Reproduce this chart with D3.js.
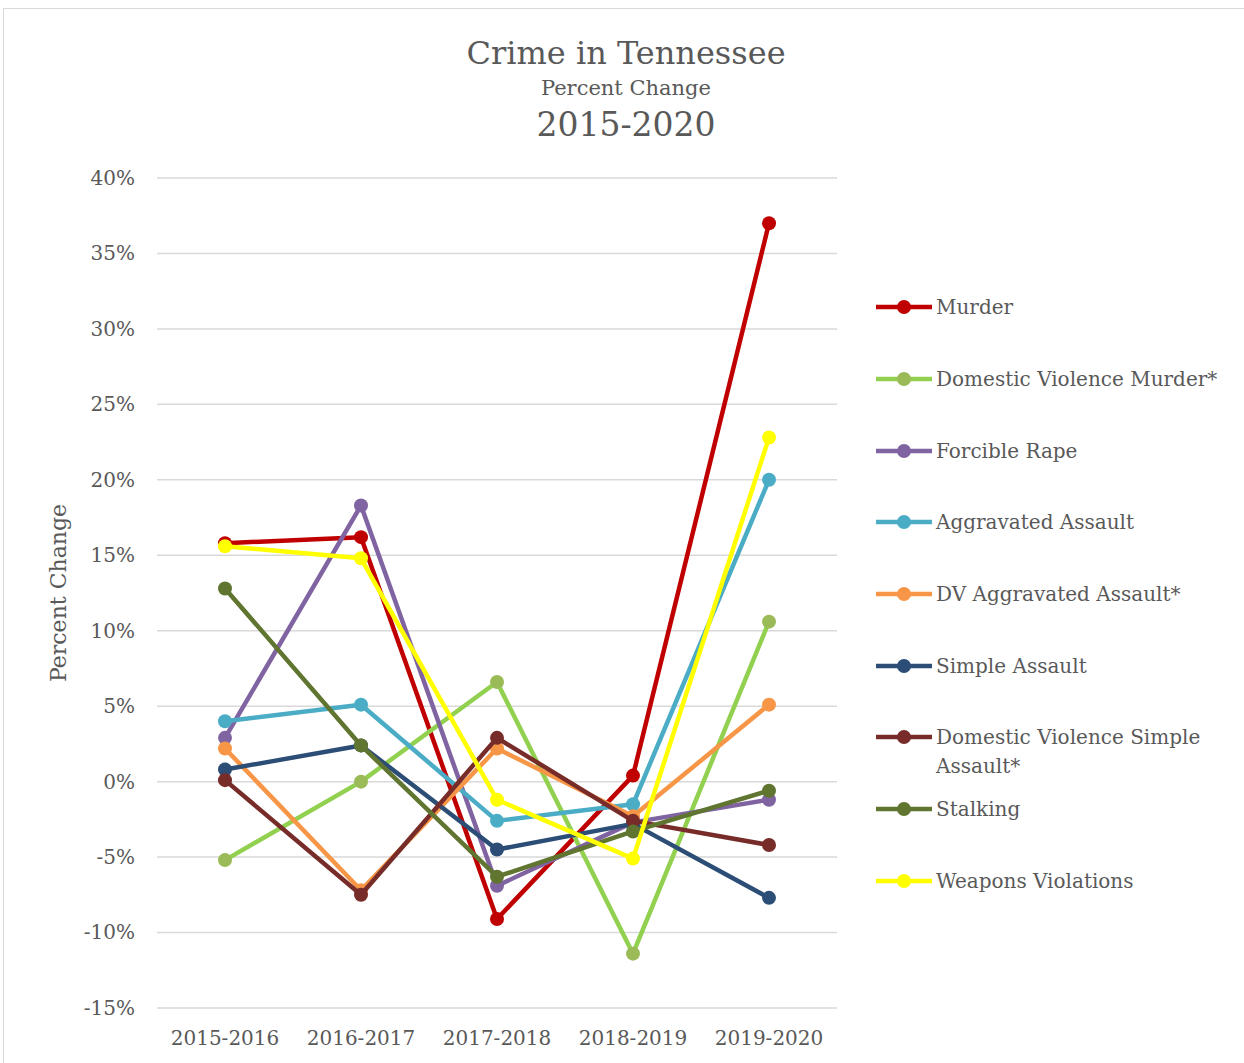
<!DOCTYPE html>
<html>
<head>
<meta charset="utf-8">
<script src="https://cdn.jsdelivr.net/npm/d3@7"></script>
<style>
  body { margin: 0; background: #fff; }
  text { font-family: 'DejaVu Serif', 'Liberation Serif', serif; fill: #595959; }
</style>
</head>
<body>
<div id="chart"></div>
<script>
//Datos del gráfico
const periods = ['2015-2016', '2016-2017', '2017-2018', '2018-2019', '2019-2020']
const yTicks = [-15, -10, -5, 0, 5, 10, 15, 20, 25, 30, 35, 40]

const murder = [15.8, 16.2, -9.1, 0.4, 37.0]
const dvMurder = [-5.2, 0.0, 6.6, -11.4, 10.6]
const forcibleRape = [2.9, 18.3, -6.9, -2.7, -1.2]
const aggAssault = [4.0, 5.1, -2.6, -1.5, 20.0]
const dvAggAssault = [2.2, -7.2, 2.2, -2.3, 5.1]
const simpleAssault = [0.8, 2.4, -4.5, -2.8, -7.7]
const dvSimpleAssault = [0.1, -7.5, 2.9, -2.6, -4.2]
const stalking = [12.8, 2.4, -6.3, -3.3, -0.6]
const weapons = [15.6, 14.8, -1.2, -5.1, 22.8]

const seriesNames = ['Murder', 'Domestic Violence Murder*', 'Forcible Rape', 'Aggravated Assault',
  'DV Aggravated Assault*', 'Simple Assault', 'Domestic Violence Simple Assault*', 'Stalking', 'Weapons Violations']
const seriesValues = [murder, dvMurder, forcibleRape, aggAssault, dvAggAssault, simpleAssault, dvSimpleAssault, stalking, weapons]
const lineColors = ['#C00000', '#92D050', '#8064A2', '#4BACC6', '#F79646', '#2C4D75', '#772C2A', '#5F7530', '#FFFF00']
const markerColors = ['#C00000', '#9BBB59', '#8064A2', '#4BACC6', '#F79646', '#2C4D75', '#772C2A', '#5F7530', '#FFFF00']

const series = seriesNames.map((name, i) => ({
  name, values: seriesValues[i], color: lineColors[i], marker: markerColors[i]
}))

//Constantes
const width = 1244
const height = 1063
const plot = { left: 157, right: 837, top: 178, bottom: 1008 }

const svg = d3.select('#chart')
  .append('svg')
  .attr('width', width)
  .attr('height', height)

//Borde del gráfico
svg.append('rect')
  .attr('x', 3.5).attr('y', 8.5)
  .attr('width', width + 10).attr('height', height + 10)
  .attr('fill', 'none')
  .attr('stroke', '#d9d9d9')
  .attr('stroke-width', 1)

//Títulos
svg.append('text')
  .attr('x', 626).attr('y', 64)
  .attr('text-anchor', 'middle')
  .style('font-size', '32px')
  .text('Crime in Tennessee')
svg.append('text')
  .attr('x', 626).attr('y', 95)
  .attr('text-anchor', 'middle')
  .style('font-size', '21px')
  .text('Percent Change')
svg.append('text')
  .attr('x', 626).attr('y', 136)
  .attr('text-anchor', 'middle')
  .style('font-size', '33px')
  .text('2015-2020')

//Escalas
const x = d3.scaleBand()
  .domain(periods)
  .range([plot.left, plot.right])
const y = d3.scaleLinear()
  .domain([-15, 40])
  .range([plot.bottom, plot.top])

//Rejilla
svg.append('g')
  .selectAll('line')
  .data(yTicks)
  .enter()
  .append('line')
  .attr('x1', plot.left).attr('x2', plot.right)
  .attr('y1', d => y(d)).attr('y2', d => y(d))
  .attr('stroke', '#d9d9d9')
  .attr('stroke-width', 1.5)

//Ejes
const axisY = d3.axisLeft(y).tickValues(yTicks).tickFormat(d => d + '%').tickSize(0).tickPadding(22)
svg.append('g')
  .attr('transform', `translate(${plot.left}, 0)`)
  .call(axisY)
  .call(g => g.select('.domain').remove())
  .selectAll('text')
  .style('font-size', '20px')
  .attr('fill', '#595959')

const axisX = d3.axisBottom(x).tickSize(0).tickPadding(23)
svg.append('g')
  .attr('transform', `translate(0, ${plot.bottom})`)
  .call(axisX)
  .call(g => g.select('.domain').remove())
  .selectAll('text')
  .style('font-size', '20px')
  .attr('fill', '#595959')

svg.append('text')
  .attr('transform', `translate(66, 593) rotate(-90)`)
  .attr('text-anchor', 'middle')
  .style('font-size', '22px')
  .text('Percent Change')

//Líneas
const line = d3.line()
  .x((d, i) => x(periods[i]) + x.bandwidth() / 2)
  .y(d => y(d))

const groups = svg.append('g')
  .selectAll('g')
  .data(series)
  .enter()
  .append('g')

groups.append('path')
  .attr('d', d => line(d.values))
  .attr('fill', 'none')
  .attr('stroke', d => d.color)
  .attr('stroke-width', 4.5)
  .attr('stroke-linejoin', 'round')

groups.selectAll('circle')
  .data(d => d.values.map((v, i) => ({ v, i, c: d.marker })))
  .enter()
  .append('circle')
  .attr('cx', d => x(periods[d.i]) + x.bandwidth() / 2)
  .attr('cy', d => y(d.v))
  .attr('r', 7)
  .attr('fill', d => d.c)

//Leyenda
const legendY = [307, 379, 451, 522, 594, 666, 737, 809, 881]
const legend = svg.append('g')
  .selectAll('g')
  .data(series)
  .enter()
  .append('g')
  .attr('transform', (d, i) => `translate(876, ${legendY[i]})`)

legend.append('line')
  .attr('x1', 0).attr('x2', 56)
  .attr('stroke', d => d.color)
  .attr('stroke-width', 4.5)
legend.append('circle')
  .attr('cx', 28).attr('r', 7)
  .attr('fill', d => d.marker)

const legendText = legend.append('text')
  .attr('x', 60)
  .attr('y', 7)
  .style('font-size', '20px')
legendText.each(function (d) {
  const t = d3.select(this)
  if (d.name === 'Domestic Violence Simple Assault*') {
    t.append('tspan').attr('x', 60).attr('dy', 0).text('Domestic Violence Simple')
    t.append('tspan').attr('x', 60).attr('dy', 29).text('Assault*')
  } else {
    t.text(d.name)
  }
})
</script>
</body>
</html>
